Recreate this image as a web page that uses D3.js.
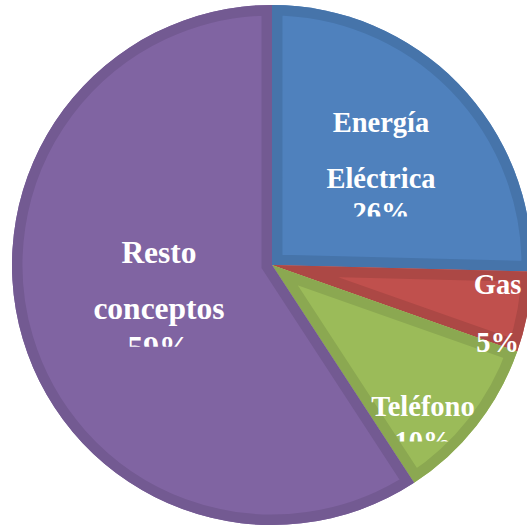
<!DOCTYPE html>
<html>
<head>
<meta charset="utf-8">
<script src="https://cdn.jsdelivr.net/npm/d3@7"></script>
<style>
  html, body { margin: 0; padding: 0; background: #fff; }
  svg { display: block; }
</style>
</head>
<body>
<svg id="chart" width="527" height="526"></svg>
<script>
// ---- data ----
const categories = ["Energía Eléctrica", "Gas", "Teléfono", "Resto conceptos"];
const values = [25.4, 5.0, 10.4, 59.2];
const labelLines = [["Energía", "Eléctrica", "26%"], ["Gas", "5%"], ["Teléfono", "10%"], ["Resto", "conceptos", "59%"]];

// ---- styling / layout (not data) ----
const fills = ["#4F81BD", "#C0504D", "#9BBB59", "#8064A2"];
const borders = ["#4674AA", "#AC4845", "#8BA851", "#735A92"];
const labelLayout = [
  { x: 381, ys: [131.5, 187.7, 221.5], clipBottom: 216.5, size: 28.5 },
  { x: 497.5, ys: [294.3, 352], clipBottom: 526, size: 28.5 },
  { x: 423, ys: [415.5, 451], clipBottom: 441.5, size: 28.5 },
  { x: 159, ys: [263.3, 319.3, 358], clipBottom: 346.7, size: 31.5 }
];
const cx = 272, cy = 265, R = 260, borderW = 10.5;

const svg = d3.select("#chart");
const g = svg.append("g").attr("transform", `translate(${cx},${cy})`);

const pie = d3.pie().sort(null).value(d => d)(values);
const arc = d3.arc().innerRadius(0).outerRadius(R);

const defs = svg.append("defs");
pie.forEach((d, i) => {
  defs.append("clipPath").attr("id", "sl" + i)
    .append("path").attr("d", arc(d));
});

const slices = g.selectAll("g.slice").data(pie).join("g").attr("class", "slice");
slices.append("path")
  .attr("d", arc)
  .attr("fill", (d, i) => fills[i]);
slices.append("path")
  .attr("d", arc)
  .attr("fill", "none")
  .attr("stroke", (d, i) => borders[i])
  .attr("stroke-width", borderW * 2)
  .attr("stroke-linejoin", "miter")
  .attr("clip-path", (d, i) => `url(#sl${i})`);

// labels
labelLines.forEach((lines, i) => {
  const L = labelLayout[i];
  defs.append("clipPath").attr("id", "lc" + i)
    .append("rect").attr("x", 0).attr("y", 0).attr("width", 527).attr("height", L.clipBottom);
  const t = svg.append("text")
    .attr("clip-path", `url(#lc${i})`)
    .attr("text-anchor", "middle")
    .style("font-family", `"Liberation Serif", "Times New Roman", serif`)
    .style("font-weight", "bold")
    .style("font-size", L.size + "px")
    .style("fill", "#fff");
  lines.forEach((s, j) => {
    t.append("tspan").attr("x", L.x).attr("y", L.ys[j]).text(s);
  });
});
</script>
</body>
</html>
